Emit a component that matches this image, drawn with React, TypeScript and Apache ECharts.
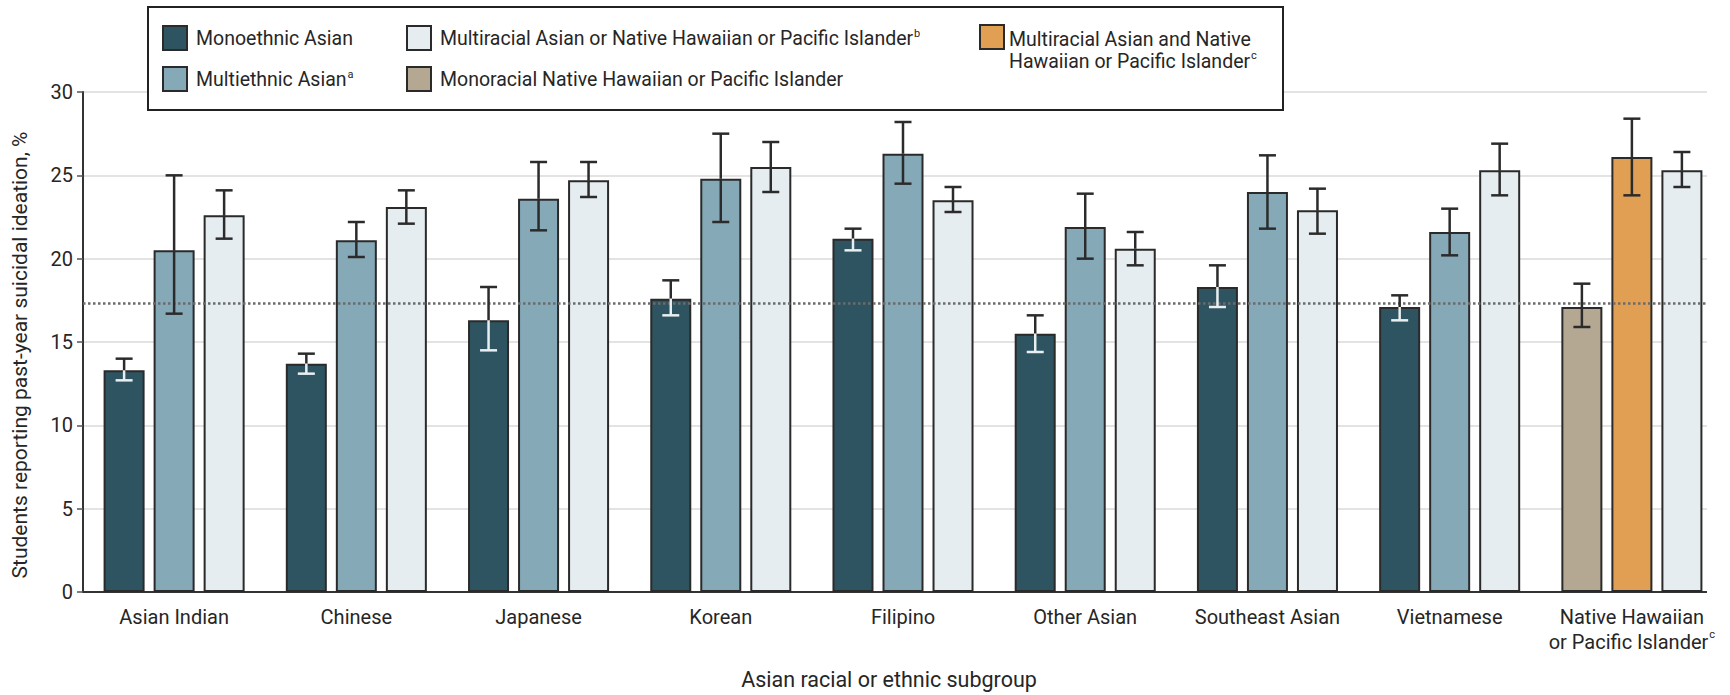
import React, { useEffect, useRef } from 'react';
import * as echarts from 'echarts';

// ---------- data ----------
const categories = [
  'Asian Indian',
  'Chinese',
  'Japanese',
  'Korean',
  'Filipino',
  'Other Asian',
  'Southeast Asian',
  'Vietnamese',
  'Native Hawaiian\nor Pacific Islander',
];

const monoethnicAsian = [13.3, 13.7, 16.3, 17.6, 21.2, 15.5, 18.3, 17.1, null];
const monoethnicAsianCI = [
  [12.7, 14.0], [13.1, 14.3], [14.5, 18.3], [16.6, 18.7], [20.5, 21.8],
  [14.4, 16.6], [17.1, 19.6], [16.3, 17.8], null,
];

const multiethnicAsian = [20.5, 21.1, 23.6, 24.8, 26.3, 21.9, 24.0, 21.6, null];
const multiethnicAsianCI = [
  [16.7, 25.0], [20.1, 22.2], [21.7, 25.8], [22.2, 27.5], [24.5, 28.2],
  [20.0, 23.9], [21.8, 26.2], [20.2, 23.0], null,
];

const multiracialAsianOrNHPI = [22.6, 23.1, 24.7, 25.5, 23.5, 20.6, 22.9, 25.3, 25.3];
const multiracialAsianOrNHPICI = [
  [21.2, 24.1], [22.1, 24.1], [23.7, 25.8], [24.0, 27.0], [22.8, 24.3],
  [19.6, 21.6], [21.5, 24.2], [23.8, 26.9], [24.3, 26.4],
];

const monoracialNHPI = [null, null, null, null, null, null, null, null, 17.1];
const monoracialNHPICI = [null, null, null, null, null, null, null, null, [15.9, 18.5]];

const multiracialAsianAndNHPI = [null, null, null, null, null, null, null, null, 26.1];
const multiracialAsianAndNHPICI = [null, null, null, null, null, null, null, null, [23.8, 28.4]];

const overallRate = 17.3;

const yTicks = { min: 0, max: 30, interval: 5 };

const NAMES = {
  mono: 'Monoethnic Asian',
  multi: 'Multiethnic Asian',
  light: 'Multiracial Asian or Native Hawaiian or Pacific Islander',
  tan: 'Monoracial Native Hawaiian or Pacific Islander',
  orange: 'Multiracial Asian and Native Hawaiian or Pacific Islander',
};

// ---------- styles ----------
const FONT = 'Roboto';
const TEXT = '#262626';
const FS = 20;
const LEG_FS = 19.5;
const BAR_W = 41;
const BAR_GAP = 9;
const BORDER = '#2a2a2a';

const COLORS = {
  mono: '#2e5461',
  multi: '#86a9b8',
  light: '#e6edf1',
  tan: '#b5a893',
  orange: '#e09f53',
};

export default function App() {
  const ref = useRef<HTMLDivElement>(null);

  useEffect(() => {
    const chart = echarts.init(ref.current!, null, { renderer: 'svg' });

    const toBar = (arr: (number | null)[]) => arr.map((v) => (v == null ? '-' : v));

    const errData: number[][] = [];
    const addErr = (
      ci: (number[] | null)[],
      vals: (number | null)[],
      slot: number,
      whiteLower: boolean
    ) => {
      ci.forEach((c, i) => {
        const v = vals[i];
        if (c && v != null) errData.push([i, c[0], c[1], v, slot, whiteLower ? 1 : 0]);
      });
    };
    addErr(monoethnicAsianCI, monoethnicAsian, 0, true);
    addErr(multiethnicAsianCI, multiethnicAsian, 1, false);
    addErr(multiracialAsianOrNHPICI, multiracialAsianOrNHPI, 2, false);
    addErr(monoracialNHPICI, monoracialNHPI, 0, false);
    addErr(multiracialAsianAndNHPICI, multiracialAsianAndNHPI, 1, false);

    const barBase = {
      type: 'bar',
      barWidth: BAR_W,
      barGap: `${Math.round((BAR_GAP / BAR_W) * 100)}%`,
      z: 2,
    };
    const itemStyle = (color: string) => ({ color, borderColor: BORDER, borderWidth: 2 });

    const legendRich = {
      t: { fontFamily: FONT, fontSize: LEG_FS, color: TEXT },
      sup: { fontFamily: FONT, fontSize: 11, color: TEXT, verticalAlign: 'top', padding: [0, 0, 8, 1] },
    };

    const legendCommon = {
      orient: 'vertical',
      padding: 0,
      itemWidth: 24,
      itemHeight: 24,
      itemGap: 15,
      selectedMode: false,
      icon: 'rect',
      itemStyle: { borderColor: BORDER, borderWidth: 2 },
      textStyle: { fontFamily: FONT, fontSize: LEG_FS, color: TEXT, padding: [0, 0, 0, 4], rich: legendRich },
    };

    const legendFormatter = (name: string) => {
      if (name === NAMES.multi) return '{t|Multiethnic Asian}{sup|a}';
      if (name === NAMES.light)
        return '{t|Multiracial Asian or Native Hawaiian or Pacific Islander}{sup|b}';
      return `{t|${name}}`;
    };

    const option: any = {
      animation: false,
      backgroundColor: '#ffffff',
      textStyle: { fontFamily: FONT },
      grid: { left: 83, right: 7, top: 92, bottom: 101, containLabel: false },
      legend: [
        { ...legendCommon, left: 162, top: 25, data: [NAMES.mono, NAMES.multi], formatter: legendFormatter },
        { ...legendCommon, left: 406, top: 25, data: [NAMES.light, NAMES.tan], formatter: legendFormatter },
      ],
      xAxis: {
        type: 'category',
        data: categories,
        axisLine: { show: true, lineStyle: { color: '#333', width: 2 } },
        axisTick: { show: false },
        splitLine: { show: false },
        axisLabel: {
          margin: 12,
          interval: 0,
          lineHeight: 25,
          formatter: (v: string) => {
            if (v.indexOf('\n') >= 0) {
              const [a, b] = v.split('\n');
              return `{t|${a}}\n{t|${b}}{sup|c}`;
            }
            return `{t|${v}}`;
          },
          rich: {
            t: { fontFamily: FONT, fontSize: FS, color: TEXT, lineHeight: 25 },
            sup: { fontFamily: FONT, fontSize: 11, color: TEXT, verticalAlign: 'top', padding: [0, 0, 8, 1] },
          },
        },
        name: 'Asian racial or ethnic subgroup',
        nameLocation: 'middle',
        nameGap: 76,
        nameTextStyle: { fontFamily: FONT, fontSize: 21.5, color: TEXT, padding: [0, 28, 0, 0] },
      },
      yAxis: {
        type: 'value',
        min: yTicks.min,
        max: yTicks.max,
        interval: yTicks.interval,
        axisLine: { show: true, lineStyle: { color: '#333', width: 2 } },
        axisTick: { show: true, length: 6, lineStyle: { color: '#555', width: 1.5 } },
        axisLabel: { fontFamily: FONT, fontSize: FS, color: TEXT, margin: 10 },
        splitLine: { show: true, lineStyle: { color: '#e3e3e3', width: 2 } },
      },
      graphic: [
        {
          type: 'rect',
          z: 1,
          shape: { x: 148, y: 7, width: 1135, height: 103 },
          style: { fill: '#ffffff', stroke: '#222', lineWidth: 2 },
        },
        {
          type: 'rect',
          z: 10,
          shape: { x: 980, y: 25, width: 24, height: 24 },
          style: { fill: COLORS.orange, stroke: BORDER, lineWidth: 2 },
        },
        {
          type: 'text',
          z: 10,
          x: 1009,
          y: 28,
          style: {
            text: '{t|Multiracial Asian and Native}\n{t|Hawaiian or Pacific Islander}{sup|c}',
            rich: {
              t: { fontFamily: FONT, fontSize: LEG_FS, fill: TEXT, lineHeight: 22 },
              sup: { fontFamily: FONT, fontSize: 11, fill: TEXT, verticalAlign: 'top', padding: [0, 0, 8, 1] },
            },
            textVerticalAlign: 'top',
          },
        },
        {
          type: 'rect',
          z: 100,
          shape: { x: 1707, y: 80, width: 30, height: 520 },
          style: { fill: '#ffffff' },
        },
        {
          type: 'text',
          x: 20,
          y: 355,
          rotation: Math.PI / 2,
          style: {
            text: 'Students reporting past-year suicidal ideation, %',
            fontFamily: FONT,
            fontSize: 21,
            fill: TEXT,
            textAlign: 'center',
            textVerticalAlign: 'middle',
          },
        },
      ],
      series: [
        {
          type: 'line',
          data: [],
          z: 1,
          silent: true,
          markLine: {
            silent: true,
            symbol: ['none', 'none'],
            label: { show: false },
            lineStyle: { color: '#6b6b6b', width: 2.5, type: [2.5, 2.5] },
            data: [{ yAxis: overallRate }],
          },
        },
        { ...barBase, name: NAMES.mono, stack: 'a', data: toBar(monoethnicAsian), itemStyle: itemStyle(COLORS.mono) },
        { ...barBase, name: NAMES.multi, stack: 'b', data: toBar(multiethnicAsian), itemStyle: itemStyle(COLORS.multi) },
        { ...barBase, name: NAMES.light, stack: 'c', data: toBar(multiracialAsianOrNHPI), itemStyle: itemStyle(COLORS.light) },
        { ...barBase, name: NAMES.tan, stack: 'a', data: toBar(monoracialNHPI), itemStyle: itemStyle(COLORS.tan) },
        { ...barBase, name: NAMES.orange, stack: 'b', data: toBar(multiracialAsianAndNHPI), itemStyle: itemStyle(COLORS.orange) },
        {
          type: 'custom',
          z: 5,
          silent: true,
          data: errData,
          encode: { x: 0, y: [1, 2] },
          renderItem: (params: any, api: any) => {
            const idx = api.value(0);
            const base = api.coord([idx, 0]);
            const x = base[0] + (api.value(4) - 1) * (BAR_W + BAR_GAP);
            const yLow = api.coord([idx, api.value(1)])[1];
            const yHigh = api.coord([idx, api.value(2)])[1];
            const yVal = api.coord([idx, api.value(3)])[1];
            const dark = '#2b2b2b';
            const lowColor = api.value(5) ? '#e9eff1' : dark;
            const cap = 8.5;
            const lw = 2.5;
            return {
              type: 'group',
              children: [
                { type: 'line', shape: { x1: x, y1: yHigh, x2: x, y2: yVal }, style: { stroke: dark, lineWidth: lw } },
                { type: 'line', shape: { x1: x - cap, y1: yHigh, x2: x + cap, y2: yHigh }, style: { stroke: dark, lineWidth: lw } },
                { type: 'line', shape: { x1: x, y1: yVal, x2: x, y2: yLow }, style: { stroke: lowColor, lineWidth: lw } },
                { type: 'line', shape: { x1: x - cap, y1: yLow, x2: x + cap, y2: yLow }, style: { stroke: lowColor, lineWidth: lw } },
              ],
            };
          },
        },
      ],
    };

    chart.setOption(option);
    return () => chart.dispose();
  }, []);

  return (
    <div
      ref={ref}
      style={{ position: 'absolute', left: 0, top: 0, width: 1730, height: 695, background: '#fff' }}
    />
  );
}
